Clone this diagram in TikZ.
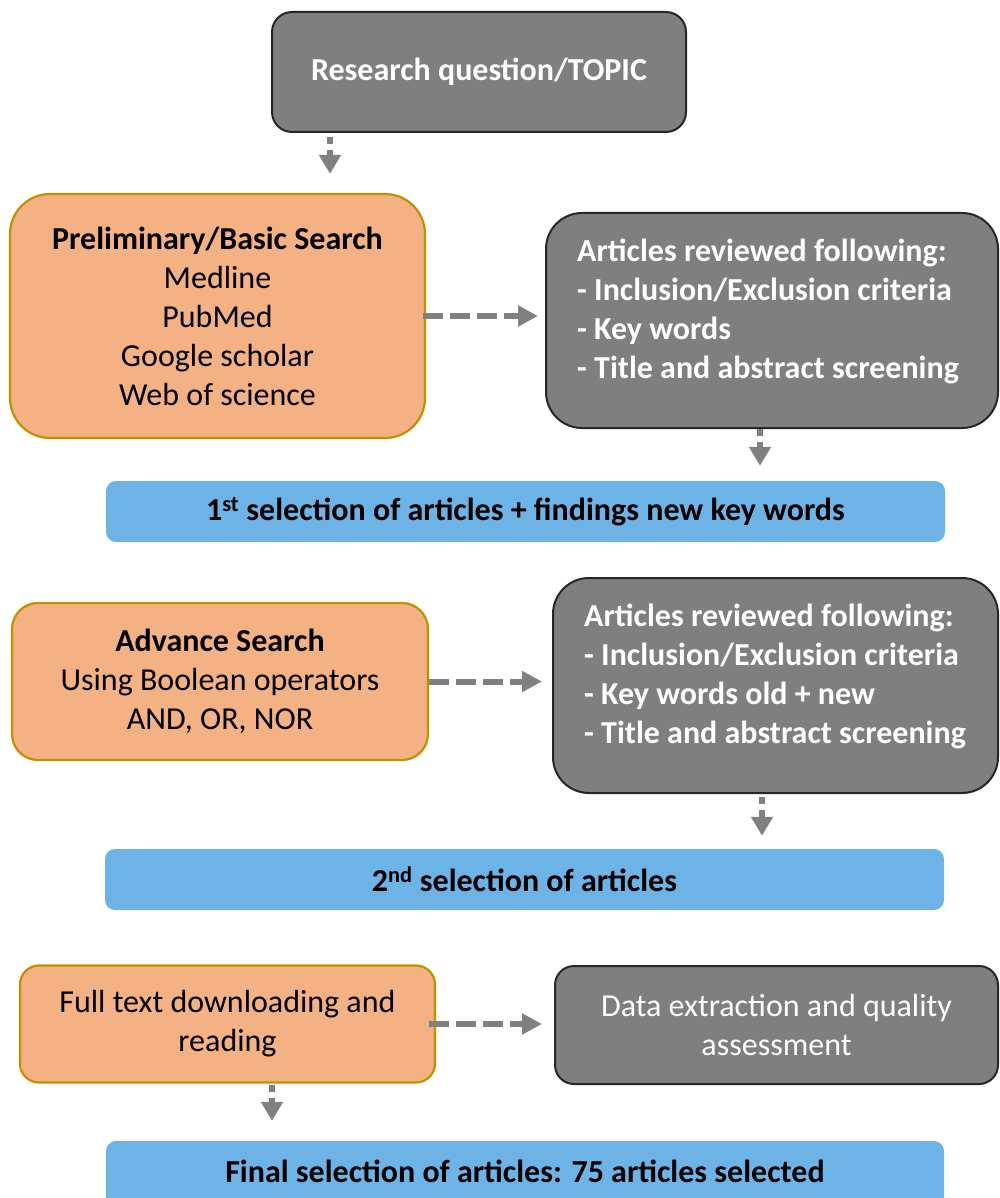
\documentclass[tikz,border=0pt]{standalone}
\usepackage{fontspec}
\setmainfont{Carlito}
\usetikzlibrary{arrows.meta,calc}
\definecolor{boxgray}{HTML}{7F7F7F}
\definecolor{boxedge}{HTML}{262626}
\definecolor{peach}{HTML}{F4B183}
\definecolor{peachedge}{HTML}{BF9000}
\definecolor{barblue}{HTML}{6DB3E6}
\definecolor{arrowgray}{HTML}{808080}
\tikzset{
  txt/.style={font=\fontsize{32}{39}\selectfont},
  btxt/.style={font=\fontsize{32}{39}\selectfont\bfseries},
  graybox/.style={draw=boxedge, line width=2pt, fill=boxgray, text=white, txt},
  peachbox/.style={draw=peachedge, line width=2.2pt, fill=peach, text=black, txt, align=center},
  bluebar/.style={fill=barblue, rounded corners=10pt, text=black, btxt},
  dasharrow/.style={draw=arrowgray, line width=6pt, dash pattern=on 20pt off 7pt,
    -{Triangle[width=20pt,length=20pt]}},
  downarrow/.style={draw=arrowgray, line width=6pt, dash pattern=on 7pt off 6pt,
    -{Triangle[width=21pt,length=19pt]}},
  boxat/.style args={#1/#2/#3/#4}{minimum width=#3-#1, minimum height=#4-#2, inner sep=0pt}
}
\begin{document}
\begin{tikzpicture}[x=1pt,y=-1pt]
\useasboundingbox (0,0) rectangle (999,1198);

% top: research question
\node[graybox, rounded corners=20pt, boxat=272/12/686/132, btxt]
  (topic) at (479,72) {Research question/TOPIC};

% first search round
\node[peachbox, rounded corners=40pt, boxat=10/196/425/440]
  (prelim) at (217.5,316) {\textbf{Preliminary/Basic Search}\\Medline\\PubMed\\Google scholar\\Web of science};
\node[graybox, rounded corners=36pt, boxat=546/213/998/428] (rev1) at (772,320.5) {};
\node[text=white, btxt, align=left, anchor=west, inner sep=0pt]
  (rev1-text) at (577,311.5) {Articles reviewed following:\\- Inclusion/Exclusion criteria\\- Key words\\- Title and abstract screening};
\node[bluebar, boxat=106/481/945/542] (sel1) at (525.5,511.5)
  {1\textsuperscript{st} selection of articles + findings new key words};

% second search round
\node[peachbox, rounded corners=26pt, boxat=12/603/428/760]
  (adv) at (220,681.5) {\textbf{Advance Search}\\Using Boolean operators\\AND, OR, NOR};
\node[graybox, rounded corners=36pt, boxat=553/578/998/793] (rev2) at (775.5,685.5) {};
\node[text=white, btxt, align=left, anchor=west, inner sep=0pt]
  (rev2-text) at (584,676.5) {Articles reviewed following:\\- Inclusion/Exclusion criteria\\- Key words old + new\\- Title and abstract screening};
\node[bluebar, boxat=105/849/944/910] (sel2) at (524.5,879.5)
  {2\textsuperscript{nd} selection of articles};

% final round
\node[peachbox, rounded corners=19pt, boxat=20/967/435/1084]
  (full) at (227.5,1024) {Full text downloading and\\reading};
\node[graybox, rounded corners=19pt, boxat=555/967/998/1085, align=center]
  (data) at (776.5,1025) {Data extraction and quality\\assessment};
\node[bluebar, boxat=106/1141/944/1207, text depth=0pt] (sel3) at (525,1174)
  {\raisebox{5pt}{Final selection of articles: 75 articles selected}};

% connectors
\draw[downarrow, shorten <=4pt] (topic.south -| 330,0) -- ($(prelim.north -| 330,0)+(0,-19)$);
\draw[dasharrow, shorten <=-3pt, shorten >=7pt] (prelim.east) -- (prelim.east -| rev1.west);
\draw[downarrow, shorten <=0pt] (rev1.south -| 760,0) -- ($(sel1.north -| 760,0)+(0,-15)$);
\draw[dasharrow, shorten >=10pt] (adv.east) -- (adv.east -| rev2.west);
\draw[downarrow, shorten <=3pt] (rev2.south -| 762,0) -- ($(sel2.north -| 762,0)+(0,-13)$);
\draw[dasharrow, shorten <=-7pt, shorten >=12pt] (full.east) -- (full.east -| data.west);
\draw[downarrow, shorten <=1pt] (full.south -| 272,0) -- ($(sel3.north -| 272,0)+(0,-20)$);
\end{tikzpicture}
\end{document}
